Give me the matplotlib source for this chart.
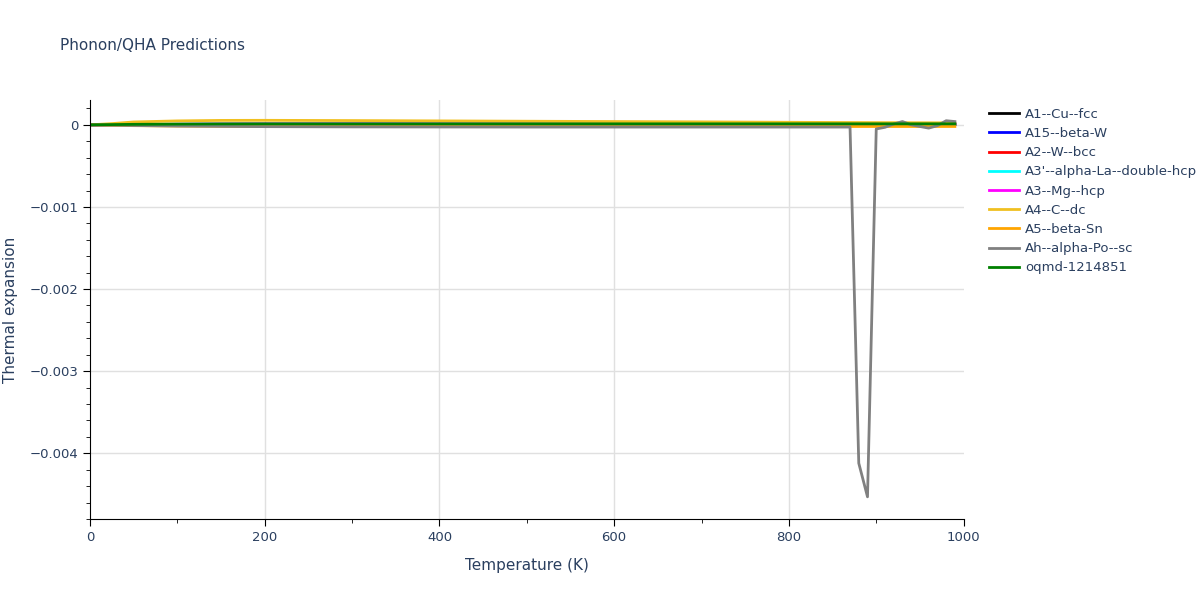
import matplotlib
matplotlib.use("Agg")
import matplotlib.pyplot as plt
from matplotlib.ticker import MultipleLocator, FuncFormatter

# Temperatures (K)
T_smooth = [0, 25, 50, 100, 150, 200, 300, 400, 500, 600, 700, 800, 900, 990]

a1_cu_fcc = [0, 0.000002, 0.000004, 0.000006, 0.000007, 0.000007, 0.000007, 0.000007, 0.000007, 0.000007, 0.000007, 0.000007, 0.000007, 0.000007]
a15_beta_w = [0, 0.000002, 0.000004, 0.000006, 0.000007, 0.000008, 0.000008, 0.000008, 0.000008, 0.000008, 0.000008, 0.000008, 0.000008, 0.000008]
a2_w_bcc = [0, 0.000001, 0.000003, 0.000005, 0.000006, 0.000006, 0.000006, 0.000006, 0.000006, 0.000006, 0.000006, 0.000006, 0.000006, 0.000006]
a3p_la = [0, 0.000001, 0.000002, 0.000003, 0.000004, 0.000004, 0.000004, 0.000004, 0.000004, 0.000004, 0.000004, 0.000004, 0.000004, 0.000004]
a3_mg_hcp = [0, 0.000002, 0.000004, 0.000006, 0.000007, 0.000008, 0.000009, 0.000009, 0.000009, 0.000009, 0.000009, 0.000009, 0.000009, 0.000009]
a4_c_dc = [0, 0.000015, 0.000035, 0.000048, 0.000054, 0.000055, 0.000052, 0.000048, 0.000044, 0.000040, 0.000036, 0.000031, 0.000027, 0.000024]
a5_beta_sn = [0, -0.000005, -0.000010, -0.000015, -0.000018, -0.000020, -0.000021, -0.000021, -0.000021, -0.000021, -0.000021, -0.000020, -0.000020, -0.000020]
oqmd_1214851 = [0, 0.000003, 0.000006, 0.000009, 0.000011, 0.000012, 0.000012, 0.000012, 0.000012, 0.000012, 0.000012, 0.000012, 0.000012, 0.000012]

T_po = [0, 50, 100, 200, 300, 400, 500, 600, 700, 800, 860, 870, 880, 890, 900, 910, 920, 930, 940, 950, 960, 970, 980, 990]
ah_alpha_po_sc = [0, -0.000008, -0.000015, -0.000022, -0.000025, -0.000026, -0.000027, -0.000027, -0.000027, -0.000027, -0.000027,
                  -0.000027, -0.00412, -0.00453, -0.00005, -0.00003, 0.00001, 0.00004, 0.00000, -0.00002, -0.00004, -0.00001, 0.00005, 0.00004]

x_grid = [200, 400, 600, 800]

series = [
    ("A1--Cu--fcc", T_smooth, a1_cu_fcc, "black"),
    ("A15--beta-W", T_smooth, a15_beta_w, "blue"),
    ("A2--W--bcc", T_smooth, a2_w_bcc, "red"),
    ("A3'--alpha-La--double-hcp", T_smooth, a3p_la, "cyan"),
    ("A3--Mg--hcp", T_smooth, a3_mg_hcp, "magenta"),
    ("A4--C--dc", T_smooth, a4_c_dc, "#F0C020"),
    ("A5--beta-Sn", T_smooth, a5_beta_sn, "orange"),
    ("Ah--alpha-Po--sc", T_po, ah_alpha_po_sc, "gray"),
    ("oqmd-1214851", T_smooth, oqmd_1214851, "green"),
]

txt = "#2a3f5f"
fig = plt.figure(figsize=(12, 6), dpi=100)
ax = fig.add_axes([0.075, 0.135, 0.728, 0.698])

for xv in x_grid:
    ax.axvline(xv, color="#e0e0e0", lw=1, zorder=0)

for name, x, y, c in series:
    ax.plot(x, y, color=c, lw=2, label=name)

ax.set_xlim(0, 1000)
ax.set_ylim(-0.0048, 0.0003)
ax.xaxis.set_major_locator(MultipleLocator(200))
ax.xaxis.set_minor_locator(MultipleLocator(100))
ax.yaxis.set_major_locator(MultipleLocator(0.001))
ax.yaxis.set_minor_locator(MultipleLocator(0.0002))

def yfmt(v, p):
    if abs(v) < 1e-12:
        return "0"
    return ("\u2212%.3f" % abs(v)) if v < 0 else "%.3f" % v
ax.yaxis.set_major_formatter(FuncFormatter(yfmt))

ax.grid(True, axis="y", which="major", color="#e0e0e0", lw=1)
ax.set_axisbelow(True)
for s in ["top", "right"]:
    ax.spines[s].set_visible(False)
for s in ["left", "bottom"]:
    ax.spines[s].set_color("black")
ax.tick_params(which="major", direction="out", length=5, color="black", labelsize=9.5, labelcolor=txt)
ax.tick_params(which="minor", direction="out", length=3, color="black")
ax.set_xlabel("Temperature (K)", fontsize=11, color=txt, labelpad=10)
ax.set_ylabel("Thermal expansion", fontsize=11, color=txt, labelpad=8)

fig.text(0.05, 0.925, "Phonon/QHA Predictions", fontsize=11, color=txt, va="center")

leg = fig.legend(loc="upper left", bbox_to_anchor=(0.814, 0.84), frameon=False,
                 fontsize=9.5, handlelength=2.3, labelspacing=0.47, handletextpad=0.45)
for t in leg.get_texts():
    t.set_color(txt)

fig.savefig("out.png", dpi=100)
